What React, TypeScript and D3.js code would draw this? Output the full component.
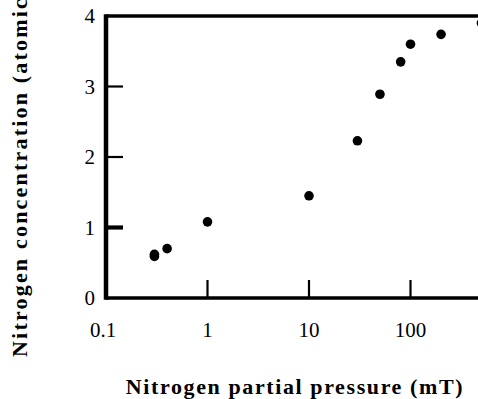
import React from "react";
import * as d3 from "d3";

const width = 478;
const height = 399;

// nitrogen partial pressure (mT) vs nitrogen concentration (atomic %)
const pressure = [0.3, 0.3, 0.4, 1, 10, 30, 50, 80, 100, 200, 500];
const concentration = [0.59, 0.62, 0.7, 1.08, 1.45, 2.23, 2.89, 3.35, 3.6, 3.74, 3.9];
const xTicks = [0.1, 1, 10, 100];
const xTickLabels = ["0.1", "1", "10", "100"];
const yTicks = [0, 1, 2, 3, 4];

const x = d3.scaleLog().domain([0.1, 1000]).range([106, 512]);
const y = d3.scaleLinear().domain([0, 4]).range([298, 16]);

const FONT = "Liberation Serif";

export default function App() {
  const x0 = x(0.1);
  const y0 = y(0);
  return (
    <svg
      width={width}
      height={height}
      fontFamily={FONT}
      style={{ position: "absolute", left: 0, top: 0, fontFamily: FONT }}
    >
      <rect width={width} height={height} fill="#fff" />
      {/* frame */}
      <line x1={x0} x2={512} y1={y(4)} y2={y(4)} stroke="#000" strokeWidth={3.5} />
      <line x1={x0} x2={512} y1={y0} y2={y0} stroke="#000" strokeWidth={3.5} />
      <line x1={x0} x2={x0} y1={y(4) - 1.75} y2={y0 + 1.75} stroke="#000" strokeWidth={4.5} />

      {/* y ticks, inward */}
      {yTicks.map((t) => (
        <g key={t}>
          {t > 0 && t < 4 && (
            <line x1={x0} x2={x0 + 17} y1={y(t)} y2={y(t)} stroke="#000" strokeWidth={t === 1 ? 4.2 : 2.2} />
          )}
          <text x={95} y={y(t) + 7} textAnchor="end" fontSize={21} style={{ fontFamily: FONT }}>
            {t}
          </text>
        </g>
      ))}

      {/* x ticks, inward */}
      {xTicks.map((t, i) => (
        <g key={t}>
          {i > 0 && <line x1={x(t)} x2={x(t)} y1={y0} y2={y0 - 18} stroke="#000" strokeWidth={2.2} />}
          <text x={x(t) - (i === 0 ? 3 : 0)} y={337} textAnchor="middle" fontSize={21} style={{ fontFamily: FONT }}>
            {xTickLabels[i]}
          </text>
        </g>
      ))}

      {pressure.map((p, i) => (
        <circle key={i} cx={x(p)} cy={y(concentration[i])} r={4.8} fill="#000" />
      ))}

      <text x={295} y={394} textAnchor="middle" fontSize={22} fontWeight="bold" letterSpacing={1.6} style={{ fontFamily: FONT }}>
        Nitrogen partial pressure (mT)
      </text>
      <text
        transform="translate(27 357) rotate(-90)"
        fontSize={22}
        fontWeight="bold"
        letterSpacing={2.2}
        style={{ fontFamily: FONT }}
      >
        Nitrogen concentration (atomic %)
      </text>
    </svg>
  );
}
